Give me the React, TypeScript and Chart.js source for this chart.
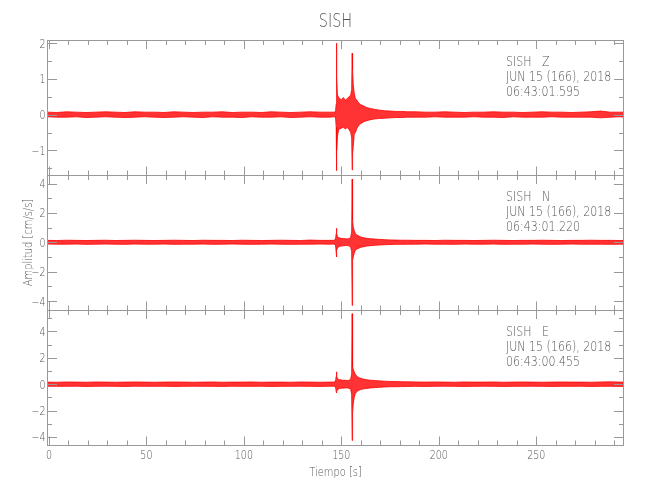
import { useEffect, useRef } from "react";
import { Chart, registerables } from "chart.js";

Chart.register(...registerables);

// ---- data (seconds, cm/s/s envelope) ----
const times = [
  -1, 4, 9, 14, 19, 24, 29, 34, 39, 44, 49, 54, 59, 64, 69, 74, 79, 84, 89, 94, 99, 104, 109, 114, 119, 124, 129, 134, 139, 144,
  146, 147, 147.35, 147.5, 147.65, 148, 148.5, 149, 150, 151, 152, 153, 154, 154.8, 155.3, 155.55, 155.75, 156.1, 156.6, 157.2, 158, 159, 160, 161.5, 163, 165, 167, 169, 172, 175, 178, 181, 184,
  188, 193, 198, 203, 208, 213, 218, 223, 228, 233, 238, 243, 248, 253, 258, 263, 268, 273, 278, 283, 288, 293, 295,
];

const zUpper = [
  0.07, 0.06, 0.08, 0.07, 0.06, 0.07, 0.08, 0.07, 0.06, 0.08, 0.07, 0.07, 0.06, 0.08, 0.07, 0.06, 0.07, 0.07, 0.08, 0.06, 0.07, 0.07, 0.06, 0.08, 0.07, 0.06, 0.07, 0.08, 0.07, 0.07,
  0.07, 0.08, 0.3, 2.0, 1.05, 0.55, 0.5, 0.45, 0.42, 0.48, 0.4, 0.45, 0.5, 0.55, 0.7, 1.72, 1.25, 0.85, 0.6, 0.45, 0.4, 0.32, 0.28, 0.24, 0.2, 0.17, 0.15, 0.13, 0.11, 0.1, 0.09, 0.09, 0.08,
  0.08, 0.07, 0.07, 0.08, 0.07, 0.06, 0.07, 0.07, 0.08, 0.07, 0.07, 0.06, 0.07, 0.08, 0.07, 0.07, 0.06, 0.07, 0.08, 0.1, 0.07, 0.07, 0.07,
];
const zLower = [
  -0.06, -0.07, -0.07, -0.06, -0.08, -0.07, -0.06, -0.07, -0.08, -0.07, -0.06, -0.07, -0.08, -0.07, -0.06, -0.07, -0.08, -0.06, -0.07, -0.07, -0.08, -0.06, -0.07, -0.07, -0.06, -0.08, -0.07, -0.06, -0.07, -0.07,
  -0.06, -0.07, -0.35, -1.57, -1.0, -0.62, -0.45, -0.4, -0.38, -0.35, -0.4, -0.36, -0.42, -0.5, -0.65, -1.55, -1.1, -0.9, -0.55, -0.5, -0.38, -0.3, -0.25, -0.2, -0.17, -0.14, -0.12, -0.11, -0.1, -0.09, -0.08, -0.08, -0.07,
  -0.07, -0.07, -0.06, -0.07, -0.07, -0.07, -0.06, -0.07, -0.07, -0.08, -0.06, -0.07, -0.07, -0.07, -0.06, -0.07, -0.07, -0.07, -0.07, -0.09, -0.07, -0.06, -0.07,
];

const nUpper = [
  0.13, 0.12, 0.14, 0.13, 0.12, 0.13, 0.14, 0.12, 0.13, 0.14, 0.13, 0.12, 0.13, 0.14, 0.13, 0.12, 0.14, 0.13, 0.13, 0.12, 0.14, 0.13, 0.12, 0.13, 0.14, 0.13, 0.12, 0.15, 0.13, 0.13,
  0.13, 0.2, 0.6, 0.95, 0.6, 0.4, 0.33, 0.3, 0.27, 0.25, 0.24, 0.23, 0.25, 0.35, 0.7, 4.3, 1.5, 1.05, 0.8, 0.6, 0.5, 0.42, 0.36, 0.3, 0.27, 0.24, 0.22, 0.2, 0.18, 0.16, 0.15, 0.14, 0.14,
  0.13, 0.13, 0.12, 0.14, 0.13, 0.13, 0.12, 0.13, 0.14, 0.13, 0.12, 0.13, 0.13, 0.14, 0.13, 0.12, 0.13, 0.13, 0.14, 0.13, 0.13, 0.12, 0.13,
];
const nLower = [
  -0.12, -0.13, -0.13, -0.12, -0.14, -0.13, -0.12, -0.13, -0.14, -0.12, -0.13, -0.13, -0.12, -0.14, -0.13, -0.13, -0.12, -0.14, -0.13, -0.12, -0.13, -0.14, -0.13, -0.12, -0.13, -0.14, -0.13, -0.13, -0.12, -0.13,
  -0.12, -0.18, -0.7, -1.0, -0.55, -0.4, -0.32, -0.28, -0.25, -0.24, -0.22, -0.22, -0.24, -0.35, -0.6, -4.3, -1.25, -1.0, -0.75, -0.55, -0.45, -0.4, -0.34, -0.3, -0.26, -0.23, -0.21, -0.19, -0.17, -0.15, -0.14, -0.14, -0.13,
  -0.13, -0.12, -0.13, -0.13, -0.14, -0.12, -0.13, -0.13, -0.12, -0.14, -0.13, -0.13, -0.12, -0.13, -0.14, -0.13, -0.12, -0.13, -0.13, -0.13, -0.14, -0.13, -0.13,
];

const eUpper = [
  0.16, 0.15, 0.17, 0.16, 0.15, 0.17, 0.16, 0.15, 0.16, 0.17, 0.16, 0.15, 0.16, 0.17, 0.16, 0.15, 0.16, 0.17, 0.15, 0.16, 0.16, 0.17, 0.15, 0.16, 0.16, 0.15, 0.17, 0.16, 0.15, 0.16,
  0.16, 0.22, 0.6, 0.94, 0.6, 0.45, 0.38, 0.35, 0.32, 0.3, 0.3, 0.28, 0.3, 0.4, 0.8, 5.35, 1.3, 1.15, 0.95, 0.75, 0.6, 0.5, 0.45, 0.38, 0.34, 0.3, 0.28, 0.26, 0.23, 0.21, 0.2, 0.19, 0.18,
  0.17, 0.16, 0.17, 0.16, 0.15, 0.17, 0.16, 0.16, 0.17, 0.15, 0.16, 0.17, 0.16, 0.15, 0.16, 0.17, 0.16, 0.16, 0.15, 0.17, 0.18, 0.16, 0.16,
];
const eLower = [
  -0.15, -0.16, -0.16, -0.15, -0.17, -0.16, -0.15, -0.16, -0.17, -0.15, -0.16, -0.16, -0.15, -0.17, -0.16, -0.15, -0.16, -0.16, -0.17, -0.15, -0.16, -0.16, -0.15, -0.17, -0.16, -0.16, -0.15, -0.16, -0.17, -0.15,
  -0.15, -0.2, -0.55, -0.66, -0.5, -0.45, -0.38, -0.33, -0.3, -0.3, -0.28, -0.28, -0.3, -0.4, -0.8, -4.27, -2.2, -1.5, -1.0, -0.7, -0.55, -0.45, -0.4, -0.35, -0.32, -0.28, -0.26, -0.24, -0.21, -0.19, -0.19, -0.18, -0.17,
  -0.16, -0.17, -0.16, -0.15, -0.16, -0.17, -0.16, -0.15, -0.16, -0.17, -0.16, -0.16, -0.15, -0.16, -0.17, -0.16, -0.16, -0.15, -0.17, -0.16, -0.16, -0.17, -0.16,
];

// ---- axes / labels ----
const xRange = [-1, 295];
const xMajorTicks = [0, 50, 100, 150, 200, 250];
const xMinorStep = 10;
const zRange = [-1.69, 2.09];
const zMajorTicks = [-1, 0, 1, 2];
const zMinorTicks = [-1.5, -0.5, 0.5, 1.5];
const nRange = [-4.61, 4.58];
const nMajorTicks = [-4, -2, 0, 2, 4];
const nMinorTicks = [-3, -1, 1, 3];
const eRange = [-4.61, 5.63];
const eMajorTicks = [-4, -2, 0, 2, 4];
const eMinorTicks = [-3, -1, 1, 3, 5];
const zInfo = ["SISH   Z", "JUN 15 (166), 2018", "06:43:01.595"];
const nInfo = ["SISH   N", "JUN 15 (166), 2018", "06:43:01.220"];
const eInfo = ["SISH   E", "JUN 15 (166), 2018", "06:43:00.455"];
const titleText = "SISH";
const xTitle = "Tiempo [s]";
const yTitle = "Amplitud [cm/s/s]";

const RED = "rgb(255,0,0)";
const RED_FILL = "rgba(255,0,0,0.8)";
const TEXT = "#555";
const AXIS = "#999";
const FONT = '"DejaVu Sans"';
const HS = 0.76;

function fmt(v: number) {
  return v < 0 ? "\u2212" + String(-v) : String(v);
}

function txt(
  ctx: CanvasRenderingContext2D,
  s: string,
  x: number,
  y: number,
  size: number,
  align: CanvasTextAlign,
  rot = 0
) {
  ctx.save();
  ctx.translate(x, y);
  if (rot) ctx.rotate(rot);
  ctx.scale(HS, 1);
  ctx.font = `200 ${size}px ${FONT}`;
  ctx.fillStyle = TEXT;
  ctx.textAlign = align;
  ctx.textBaseline = "alphabetic";
  ctx.fillText(s, 0, 0);
  ctx.restore();
}

const frames = {
  id: "frames",
  afterDraw(chart: any) {
    const ctx: CanvasRenderingContext2D = chart.ctx;
    const xs = chart.scales.x;
    const panels = [
      { id: "yZ", major: zMajorTicks, minor: zMinorTicks, info: zInfo },
      { id: "yN", major: nMajorTicks, minor: nMinorTicks, info: nInfo },
      { id: "yE", major: eMajorTicks, minor: eMinorTicks, info: eInfo },
    ];
    const L = Math.round(xs.left);
    const R = Math.round(xs.right);
    ctx.save();
    ctx.strokeStyle = AXIS;
    ctx.lineWidth = 1;
    const line = (x1: number, y1: number, x2: number, y2: number) => {
      ctx.beginPath();
      ctx.moveTo(x1, y1);
      ctx.lineTo(x2, y2);
      ctx.stroke();
    };
    const xMinor: number[] = [];
    for (let v = 0; v <= xRange[1]; v += xMinorStep) xMinor.push(v);
    panels.forEach((p) => {
      const ys = chart.scales[p.id];
      const T = Math.round(ys.top);
      const B = Math.round(ys.bottom);
      ctx.strokeRect(L + 0.5, T + 0.5, R - L - 1, B - T);
      xMinor.forEach((v) => {
        const px = Math.round(xs.getPixelForValue(v)) + 0.5;
        const len = xMajorTicks.includes(v) ? 9 : 5;
        line(px, T, px, T + len);
        line(px, B + 0.5, px, B + 0.5 - len);
      });
      const yt = (v: number, len: number) => {
        const py = Math.round(ys.getPixelForValue(v)) + 0.5;
        line(L, py, L + len, py);
        line(R, py, R - len, py);
      };
      p.major.forEach((v) => yt(v, 10));
      p.minor.forEach((v) => yt(v, 5));
      p.major.forEach((v) => {
        const py = ys.getPixelForValue(v);
        txt(ctx, fmt(v), L - 1.5, py + 4.5, 12.5, "right");
      });
      p.info.forEach((s, i) => {
        txt(ctx, s, 506, T + 26 + i * 15, 14.5, "left");
      });
    });
    const yE = chart.scales.yE;
    xMajorTicks.forEach((v) => {
      txt(ctx, String(v), xs.getPixelForValue(v), Math.round(yE.bottom) + 13.5, 12.5, "center");
    });
    const cx = (L + R) / 2;
    txt(ctx, titleText, cx, 27, 19, "center");
    txt(ctx, xTitle, cx, 475.5, 13, "center");
    txt(ctx, yTitle, 32, (chart.chartArea.top + chart.chartArea.bottom) / 2, 13, "center", -Math.PI / 2);
    ctx.restore();
  },
};

function envelope(id: string, up: number[], lo: number[]) {
  return [
    {
      data: times.map((t, i) => ({ x: t, y: up[i] })),
      xAxisID: "x",
      yAxisID: id,
      borderColor: RED,
      backgroundColor: RED_FILL,
      borderWidth: 0.8,
      pointRadius: 0,
      tension: 0,
      fill: "+1",
    },
    {
      data: times.map((t, i) => ({ x: t, y: lo[i] })),
      xAxisID: "x",
      yAxisID: id,
      borderColor: RED,
      backgroundColor: RED_FILL,
      borderWidth: 0.8,
      pointRadius: 0,
      tension: 0,
      fill: false,
    },
  ];
}

function yScale(range: number[]) {
  return {
    type: "linear" as const,
    position: "right" as const,
    stack: "panels",
    stackWeight: 1,
    min: range[0],
    max: range[1],
    grid: { display: false, drawTicks: false },
    border: { display: false },
    ticks: { display: false },
  };
}

export default function App() {
  const ref = useRef<HTMLCanvasElement | null>(null);
  useEffect(() => {
    if (!ref.current) return;
    const chart = new Chart(ref.current, {
      type: "line",
      data: {
        datasets: [
          ...envelope("yZ", zUpper, zLower),
          ...envelope("yN", nUpper, nLower),
          ...envelope("yE", eUpper, eLower),
        ] as any,
      },
      options: {
        animation: false,
        responsive: false,
        devicePixelRatio: 1,
        layout: { padding: { left: 47, right: 26, top: 40, bottom: 55 } },
        plugins: { legend: { display: false }, tooltip: { enabled: false }, title: { display: false } },
        events: [],
        scales: {
          x: {
            type: "linear",
            min: xRange[0],
            max: xRange[1],
            grid: { display: false, drawTicks: false },
            border: { display: false },
            ticks: { display: false },
          },
          yZ: yScale(zRange),
          yN: yScale(nRange),
          yE: yScale(eRange),
        } as any,
      },
      plugins: [frames],
    });
    return () => chart.destroy();
  }, []);
  return (
    <div style={{ position: "fixed", left: 0, top: 0, width: 650, height: 500, background: "#fff" }}>
      <canvas ref={ref} width={650} height={500} style={{ display: "block" }} />
    </div>
  );
}
